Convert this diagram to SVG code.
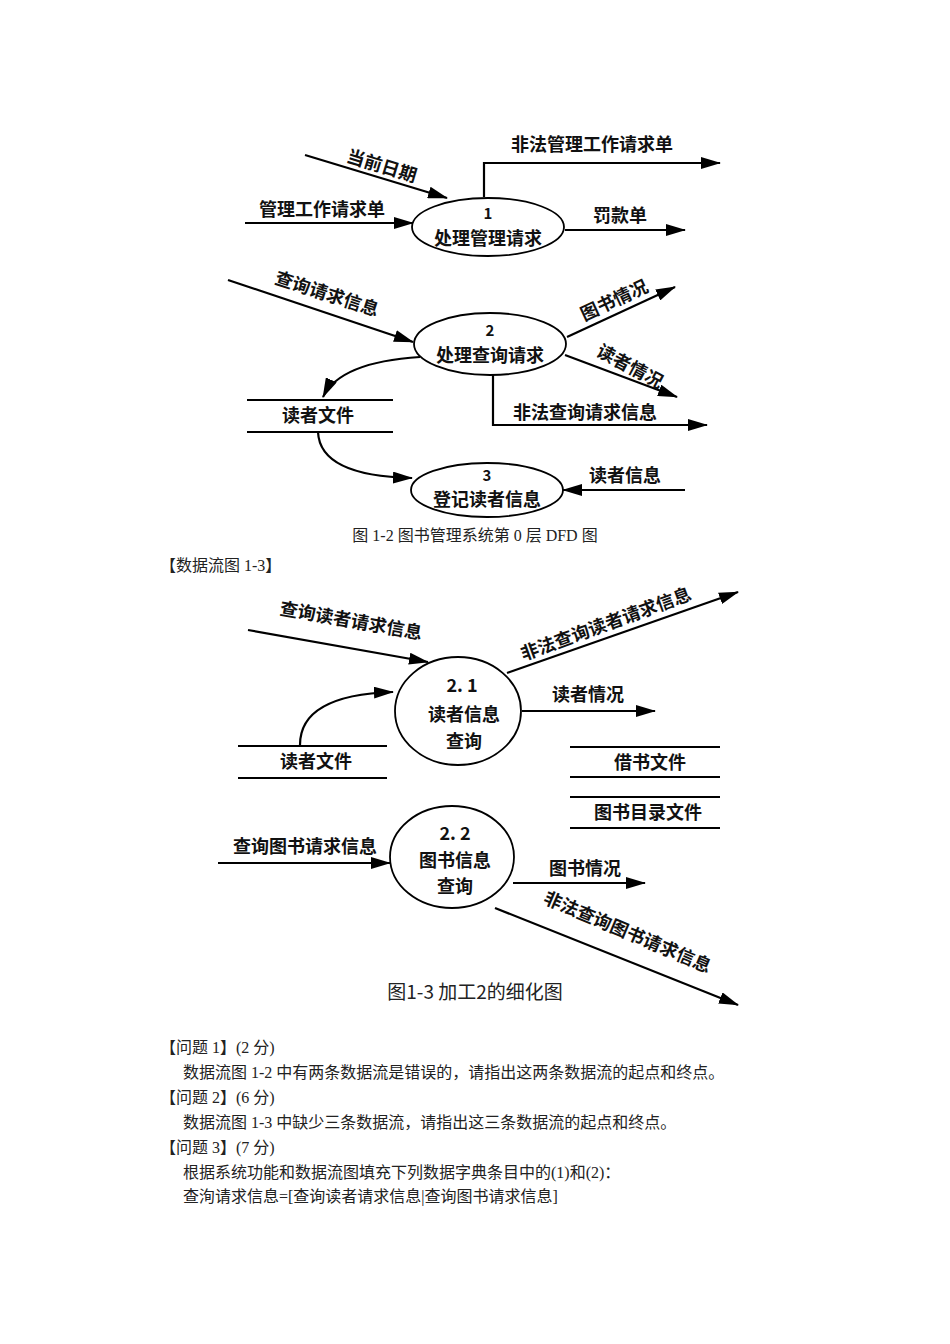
<svg xmlns="http://www.w3.org/2000/svg" width="950" height="1344" viewBox="0 0 950 1344">
<style>
.l{fill:none;stroke:#000;stroke-width:2.2}
.n{fill:#fff;stroke:#000;stroke-width:1.8}
.t{font-family:"Noto Sans CJK SC","Liberation Sans",sans-serif;font-weight:bold;font-size:18px;fill:#111}
.num{font-size:15px}
.c{text-anchor:middle}
.s{font-family:"Liberation Serif","Noto Sans CJK SC",serif;font-size:16px;fill:#222}
</style>
<defs>
<marker id="ah2" markerWidth="20" markerHeight="12" refX="19" refY="6" orient="auto" markerUnits="userSpaceOnUse"><path d="M0,0L20,6L0,12Z" fill="#000"/></marker></defs>
<rect width="950" height="1344" fill="#fff"/>
<g id="connectors">
<path class="l" marker-end="url(#ah2)" d="M305,155L447,198"/>
<path class="l" marker-end="url(#ah2)" d="M245,223L413,223"/>
<path class="l" marker-end="url(#ah2)" d="M484,197L484,163L720,163"/>
<path class="l" marker-end="url(#ah2)" d="M565,230L685,230"/>
<path class="l" marker-end="url(#ah2)" d="M228,280L413,342"/>
<path class="l" marker-end="url(#ah2)" d="M567,337L675,287"/>
<path class="l" marker-end="url(#ah2)" d="M565,355L677,397"/>
<path class="l" marker-end="url(#ah2)" d="M493,375L493,425L707,425"/>
<path class="l" marker-end="url(#ah2)" d="M420,357Q340,362 323,397"/>
<path class="l" marker-end="url(#ah2)" d="M318,432Q320,476 412,478"/>
<path class="l" marker-end="url(#ah2)" d="M685,490L563,490"/>
<path class="l" marker-end="url(#ah2)" d="M248,630L428,662"/>
<path class="l" marker-end="url(#ah2)" d="M300,745Q300,695 393,692"/>
<path class="l" marker-end="url(#ah2)" d="M507,673L738,592"/>
<path class="l" marker-end="url(#ah2)" d="M522,711L655,711"/>
<path class="l" marker-end="url(#ah2)" d="M218,863L390,863"/>
<path class="l" marker-end="url(#ah2)" d="M513,883L645,883"/>
<path class="l" marker-end="url(#ah2)" d="M495,908L738,1005"/>
</g>
<g id="p1"><ellipse class="n" cx="488" cy="227" rx="76" ry="29"/><text class="t num c" x="488" y="219">1</text><text class="t c" x="488" y="245">处理管理请求</text></g>
<g id="p2"><ellipse class="n" cx="490" cy="344" rx="76" ry="31"/><text class="t num c" x="490" y="336">2</text><text class="t c" x="490" y="362">处理查询请求</text></g>
<g id="p3"><ellipse class="n" cx="487" cy="490" rx="76" ry="27"/><text class="t num c" x="487" y="481">3</text><text class="t c" x="487" y="506">登记读者信息</text></g>
<g id="store1"><path class="l" d="M247,400H393M247,432H393"/><text class="t c" x="318" y="422">读者文件</text></g>
<g id="labels1">
<text class="t c" transform="translate(380,172) rotate(17)">当前日期</text>
<text class="t c" x="322" y="216">管理工作请求单</text>
<text class="t c" x="592" y="151">非法管理工作请求单</text>
<text class="t c" x="620" y="222">罚款单</text>
<text class="t c" transform="translate(325,300) rotate(18)">查询请求信息</text>
<text class="t c" transform="translate(617,306) rotate(-25)">图书情况</text>
<text class="t c" transform="translate(627,372) rotate(28)">读者情况</text>
<text class="t c" x="585" y="419">非法查询请求信息</text>
<text class="t c" x="625" y="482">读者信息</text>
</g>
<text class="s c" x="475" y="541">图 1-2 图书管理系统第 0 层 DFD 图</text>
<text class="s" x="160" y="571">【数据流图 1-3】</text>
<g id="p21"><ellipse class="n" cx="458" cy="711" rx="63" ry="54"/><text class="t c" x="462" y="692">2. 1</text><text class="t c" x="464" y="721">读者信息</text><text class="t c" x="464" y="748">查询</text></g>
<g id="p22"><ellipse class="n" cx="452" cy="857" rx="62" ry="51"/><text class="t c" x="455" y="840">2. 2</text><text class="t c" x="455" y="867">图书信息</text><text class="t c" x="455" y="893">查询</text></g>
<g id="store2"><path class="l" d="M238,746H387M238,778H387"/><text class="t c" x="316" y="768">读者文件</text></g>
<g id="store3"><path class="l" d="M570,747H720M570,777H720"/><text class="t c" x="650" y="769">借书文件</text></g>
<g id="store4"><path class="l" d="M570,797H720M570,828H720"/><text class="t c" x="648" y="819">图书目录文件</text></g>
<g id="labels2">
<text class="t c" transform="translate(350,627) rotate(10)">查询读者请求信息</text>
<text class="t c" transform="translate(608,630) rotate(-20)">非法查询读者请求信息</text>
<text class="t c" x="588" y="701">读者情况</text>
<text class="t c" x="305" y="853">查询图书请求信息</text>
<text class="t c" x="585" y="875">图书情况</text>
<text class="t c" transform="translate(625,938) rotate(23)">非法查询图书请求信息</text>
</g>
<text class="c" x="475" y="999" font-family="Noto Sans CJK SC,sans-serif" font-size="19" fill="#222">图1-3   加工2的细化图</text>
<g class="s">
<text x="160" y="1053">【问题 1】(2 分)</text>
<text x="183" y="1078">数据流图 1-2 中有两条数据流是错误的，请指出这两条数据流的起点和终点。</text>
<text x="160" y="1103">【问题 2】(6 分)</text>
<text x="183" y="1128">数据流图 1-3 中缺少三条数据流，请指出这三条数据流的起点和终点。</text>
<text x="160" y="1153">【问题 3】(7 分)</text>
<text x="183" y="1178">根据系统功能和数据流图填充下列数据字典条目中的(1)和(2)：</text>
<text x="183" y="1202">查洵请求信息=[查询读者请求信息|查询图书请求信息]</text>
</g>
</svg>
